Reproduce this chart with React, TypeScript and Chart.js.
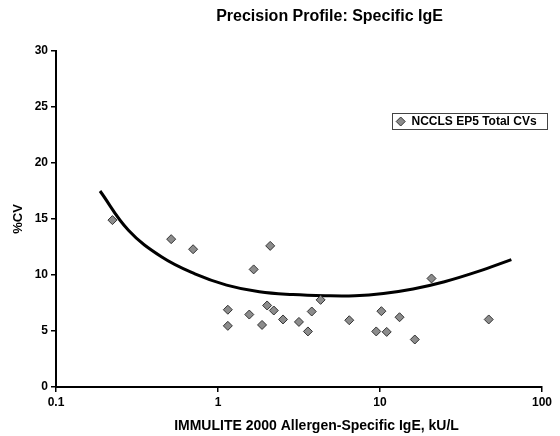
import React, { useEffect, useRef } from 'react';
import { Chart, registerables } from 'chart.js';

Chart.register(...registerables);

const FONT = "'Liberation Sans', Arial, Helvetica, sans-serif";

const chartTitle = 'Precision Profile: Specific IgE';
const xAxisTitle = 'IMMULITE 2000 Allergen-Specific IgE, kU/L';
const yAxisTitle = '%CV';
const legendLabel = 'NCCLS EP5 Total CVs';

const xTickValues = [0.1, 1, 10, 100];
const yTickValues = [0, 5, 10, 15, 20, 25, 30];

// Observed total CVs (concentration kU/L, %CV)
const cvConcentration = [
  0.223, 0.514, 0.702, 1.66, 2.1, 1.15, 1.15, 1.56, 1.87, 2.01, 2.21, 2.52,
  3.16, 3.59, 3.79, 4.3, 6.46, 10.2, 9.48, 11.0, 13.2, 20.8, 16.4, 46.9,
];
const cvPercent = [
  14.9, 13.2, 12.3, 10.5, 12.6, 6.9, 5.46, 6.47, 5.54, 7.28, 6.83, 6.03,
  5.81, 4.96, 6.74, 7.78, 5.96, 6.77, 4.96, 4.92, 6.23, 9.69, 4.24, 6.03,
];

// Fitted precision profile curve
const fitConcentration = [
  0.187, 0.28, 0.45, 0.72, 1.13, 1.8, 2.9, 4.6, 7.0, 10.5, 16, 25, 40, 64.7,
];
const fitCV = [
  17.5, 14.0, 11.6, 10.1, 9.1, 8.5, 8.25, 8.15, 8.15, 8.35, 8.75, 9.4, 10.3,
  11.37,
];

const POINT_FILL = '#8c8c8c';
const POINT_BORDER = '#333333';

const textPlugin = {
  id: 'extraText',
  afterDraw(chart: any) {
    const ctx = chart.ctx as CanvasRenderingContext2D;
    ctx.save();
    ctx.fillStyle = '#000';
    ctx.textAlign = 'center';
    ctx.textBaseline = 'middle';
    ctx.font = `bold 16px ${FONT}`;
    ctx.fillText(chartTitle, 329.5, 17);
    ctx.font = `bold 14px ${FONT}`;
    ctx.fillText(xAxisTitle, 316.5, 426);

    // legend box
    ctx.strokeStyle = '#444';
    ctx.lineWidth = 1;
    ctx.strokeRect(392.5, 113.5, 155, 16);
    ctx.beginPath();
    const cx = 400.7;
    const cy = 121.5;
    const r = 4.5;
    ctx.moveTo(cx - r, cy);
    ctx.lineTo(cx, cy - r);
    ctx.lineTo(cx + r, cy);
    ctx.lineTo(cx, cy + r);
    ctx.closePath();
    ctx.fillStyle = POINT_FILL;
    ctx.fill();
    ctx.strokeStyle = POINT_BORDER;
    ctx.stroke();
    ctx.fillStyle = '#000';
    ctx.textAlign = 'left';
    ctx.font = `bold 12px ${FONT}`;
    ctx.fillText(legendLabel, 411.5, 122);
    ctx.restore();
  },
};

export default function App() {
  const canvasRef = useRef<HTMLCanvasElement | null>(null);

  useEffect(() => {
    const canvas = canvasRef.current;
    if (!canvas) return;
    const tickFont = { family: FONT, size: 12, weight: 'bold' as const };
    const gridOpts = {
      display: true,
      drawOnChartArea: false,
      drawTicks: true,
      tickLength: 5,
      color: '#000',
      lineWidth: 1.5,
    };
    const borderOpts = { display: true, color: '#000', width: 2 };

    const chart = new Chart(canvas, {
      type: 'scatter',
      data: {
        datasets: [
          {
            label: 'fit',
            data: fitConcentration.map((x, i) => ({ x, y: fitCV[i] })),
            showLine: true,
            borderColor: '#000',
            borderWidth: 3,
            pointRadius: 0,
            tension: 0.4,
            fill: false,
            order: 2,
          } as any,
          {
            label: legendLabel,
            data: cvConcentration.map((x, i) => ({ x, y: cvPercent[i] })),
            pointStyle: 'rectRot',
            pointRadius: 4.5,
            backgroundColor: POINT_FILL,
            borderColor: POINT_BORDER,
            borderWidth: 1,
            showLine: false,
            order: 1,
          } as any,
        ],
      },
      options: {
        responsive: false,
        animation: false,
        devicePixelRatio: 1,
        layout: { padding: { top: 51, right: 18, bottom: 0, left: 0 } },
        plugins: {
          legend: { display: false },
          title: { display: false },
          tooltip: { enabled: false },
        },
        scales: {
          x: {
            type: 'logarithmic',
            min: 0.1,
            max: 100,
            afterBuildTicks: (s: any) => {
              s.ticks = xTickValues.map((v) => ({ value: v }));
            },
            afterFit: (s: any) => {
              s.height = 49;
            },
            ticks: {
              color: '#000',
              font: tickFont,
              padding: 3,
              autoSkip: false,
              maxRotation: 0,
              callback: (v: any) => String(v),
            },
            grid: gridOpts,
            border: borderOpts,
          },
          y: {
            type: 'linear',
            min: 0,
            max: 30,
            afterBuildTicks: (s: any) => {
              s.ticks = yTickValues.map((v) => ({ value: v }));
            },
            afterFit: (s: any) => {
              s.width = 56;
            },
            ticks: {
              color: '#000',
              font: tickFont,
              padding: 3,
              callback: (v: any) => String(v),
            },
            title: {
              display: true,
              text: yAxisTitle,
              color: '#000',
              font: { family: FONT, size: 13, weight: 'bold' },
              padding: { top: 11, bottom: 0 },
            },
            grid: gridOpts,
            border: borderOpts,
          },
        },
      } as any,
      plugins: [textPlugin],
    });
    return () => chart.destroy();
  }, []);

  return (
    <div
      style={{
        position: 'fixed',
        left: 0,
        top: 0,
        width: 560,
        height: 436,
        background: '#fff',
      }}
    >
      <canvas ref={canvasRef} width={560} height={436} />
    </div>
  );
}
